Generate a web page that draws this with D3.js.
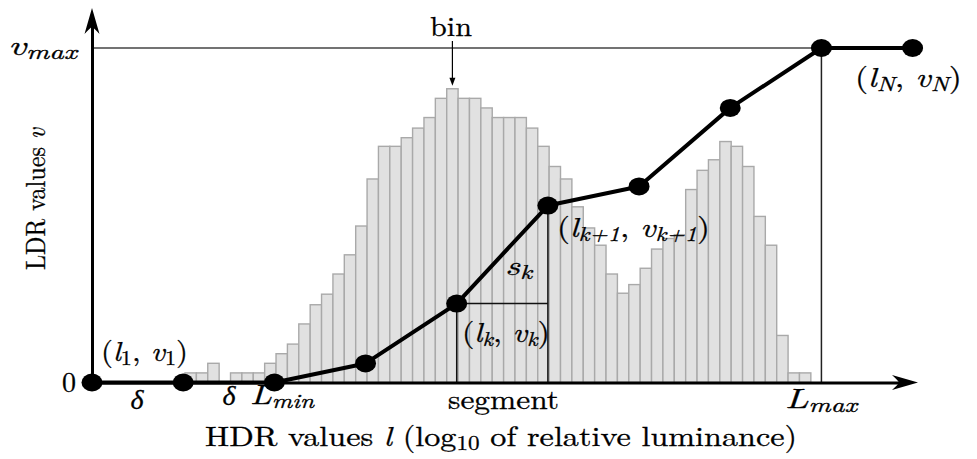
<!DOCTYPE html>
<html>
<head>
<meta charset="utf-8">
<script src="https://cdn.jsdelivr.net/npm/d3@7"></script>
<style>
  body { margin: 0; background: #fff; }
  svg { display: block; }
</style>
</head>
<body>
<div id="chart"></div>
<script>
// histogram of HDR values (relative bin counts), left to right
const binCounts = [
  1, 1, 2, 0, 1, 1, 1, 2, 3, 4,
  6.1, 8.1, 9.2, 11.3, 13.3, 16.3, 21.2, 24.6, 24.6, 25.5,
  26.5, 27.6, 29.6, 30.6, 29.6, 29.6, 28.6, 27.6, 27.6, 27.6,
  26.5, 24.6, 22.5, 21.2, 18.3, 16.1, 14.3, 11.3, 9.3, 10.2,
  11.9, 13.9, 15.0, 15.4, 20.1, 22.1, 23.2, 25.1, 24.6, 22.5,
  17.3, 14.3, 4.9, 1, 1
];
const binStart = 1.02;    // l of the first bin edge
const binWidth = 0.1248;  // bin width in l
const binLabelIndex = 23; // bin pointed at by the "bin" label

// tone curve nodes (l_i, v_i)
const nodeL = [0, 1, 2, 3, 4, 5, 6, 7, 8, 9];
const nodeV = [0, 0, 0, 0.057, 0.236, 0.529, 0.586, 0.821, 1, 1];
const segK = 4;           // index of (l_k, v_k)
const lMin = 2, lMax = 8;

const width = 977, height = 459;
const serif = "'Latin Modern Roman', 'Liberation Serif', serif";

const svg = d3.select("#chart").append("svg")
    .attr("width", width)
    .attr("height", height);

// scales
const x = d3.scaleLinear().domain([0, 9]).range([92, 912.6]);
const y = d3.scaleLinear().domain([0, 1]).range([382.5, 48]);
const hy = d3.scaleLinear().domain([0, 35]).range([382.5, 382.5 - 336]);

// histogram bars
svg.append("g")
    .selectAll("rect")
    .data(binCounts)
    .join("rect")
    .attr("x", (d, i) => x(binStart + i * binWidth))
    .attr("y", d => hy(d))
    .attr("width", x(binWidth) - x(0))
    .attr("height", d => hy(0) - hy(d))
    .attr("fill", "#e1e1e1")
    .attr("stroke", "#a9a9a9")
    .attr("stroke-width", 1.4);

// v_max and L_max guide lines
svg.append("line")
    .attr("x1", x(0)).attr("x2", x(lMax))
    .attr("y1", y(1)).attr("y2", y(1))
    .attr("stroke", "#444").attr("stroke-width", 1.6);
svg.append("line")
    .attr("x1", x(lMax)).attr("x2", x(lMax))
    .attr("y1", y(1)).attr("y2", y(0))
    .attr("stroke", "#222").attr("stroke-width", 1.5);

// segment lines
const seg = svg.append("g").attr("stroke", "#111").attr("stroke-width", 1.5);
seg.append("line")
    .attr("x1", x(nodeL[segK])).attr("x2", x(nodeL[segK]))
    .attr("y1", y(nodeV[segK])).attr("y2", y(0));
seg.append("line")
    .attr("x1", x(nodeL[segK + 1])).attr("x2", x(nodeL[segK + 1]))
    .attr("y1", y(nodeV[segK + 1])).attr("y2", y(0));
seg.append("line")
    .attr("x1", x(nodeL[segK])).attr("x2", x(nodeL[segK + 1]))
    .attr("y1", y(nodeV[segK])).attr("y2", y(nodeV[segK]));

// axes (no ticks, just the lines), plus arrow heads
const xAxisScale = d3.scaleLinear().domain([0, 1]).range([x(0), 902]);
const yAxisScale = d3.scaleLinear().domain([0, 1]).range([y(0), 24]);

svg.append("g")
    .attr("transform", `translate(0,${y(0)})`)
    .call(d3.axisBottom(xAxisScale).tickValues([]).tickSizeOuter(0))
    .select(".domain").attr("stroke", "#000").attr("stroke-width", 3);
svg.append("g")
    .attr("transform", `translate(${x(0)},0)`)
    .call(d3.axisLeft(yAxisScale).tickValues([]).tickSizeOuter(0))
    .select(".domain").attr("stroke", "#000").attr("stroke-width", 3);

const arrowHead = "M0,0 L-26,-7.5 Q-20,-2 -19,0 Q-20,2 -26,7.5 Z";
svg.append("path")
    .attr("d", arrowHead)
    .attr("transform", `translate(918,${y(0)})`)
    .attr("fill", "#000");
svg.append("path")
    .attr("d", arrowHead)
    .attr("transform", `translate(${x(0)},8) rotate(-90)`)
    .attr("fill", "#000");

// tone curve
const nodes = nodeL.map((l, i) => ({ l, v: nodeV[i] }));
svg.append("path")
    .datum(nodes)
    .attr("d", d3.line().x(d => x(d.l)).y(d => y(d.v)))
    .attr("fill", "none")
    .attr("stroke", "#000")
    .attr("stroke-width", 4)
    .attr("stroke-linejoin", "round");
svg.append("g")
    .selectAll("ellipse")
    .data(nodes)
    .join("ellipse")
    .attr("cx", d => x(d.l))
    .attr("cy", d => y(d.v))
    .attr("rx", 10.5)
    .attr("ry", 9)
    .attr("fill", "#000");

// "bin" pointer
const binCx = x(binStart + (binLabelIndex + 0.5) * binWidth);
svg.append("line")
    .attr("x1", binCx).attr("x2", binCx)
    .attr("y1", 41).attr("y2", hy(binCounts[binLabelIndex]) - 8)
    .attr("stroke", "#000").attr("stroke-width", 1.2);
svg.append("path")
    .attr("d", "M0,0 L-3,-8 L3,-8 Z")
    .attr("transform", `translate(${binCx},${hy(binCounts[binLabelIndex]) - 3})`)
    .attr("fill", "#000");

// text helper: parts = [{t, it, sub}]
function mathText(px, py, parts, opts = {}) {
  const t = svg.append("text")
      .attr("x", px).attr("y", py)
      .attr("font-family", serif)
      .attr("font-size", opts.size || 28)
      .attr("fill", "#000")
      .attr("stroke", "#000")
      .attr("stroke-width", 0.3)
      .attr("text-anchor", opts.anchor || "start");
  if (opts.len) t.attr("textLength", opts.len).attr("lengthAdjust", "spacingAndGlyphs");
  let shift = 0;
  parts.forEach(p => {
    const target = p.sub ? 4 : 0;
    const s = t.append("tspan").text(p.t).attr("dy", target - shift);
    if (p.it) s.attr("font-style", "italic");
    if (p.sub) s.attr("font-size", "0.72em");
    shift = target;
  });
  return t;
}

mathText(430, 36, [{ t: "bin" }], { len: 42 });
mathText(8, 55, [{ t: "v", it: true }, { t: "max", it: true, sub: true }], { len: 69 });
mathText(76, 392, [{ t: "0" }], { anchor: "end" });

svg.append("text")
    .attr("transform", "translate(45,199) rotate(-90)")
    .attr("text-anchor", "middle")
    .attr("font-family", serif)
    .attr("font-size", 28)
    .attr("stroke", "#000")
    .attr("stroke-width", 0.3)
    .attr("textLength", 142)
    .attr("lengthAdjust", "spacingAndGlyphs")
    .call(t => {
      t.append("tspan").text("LDR values ");
      t.append("tspan").text("v").attr("font-style", "italic");
    });

mathText(101, 361, [
  { t: "(" }, { t: "l", it: true }, { t: "1", sub: true }, { t: ", " },
  { t: "v", it: true }, { t: "1", sub: true }, { t: ")" }
], { len: 87 });

mathText(137, 409, [{ t: "δ", it: true }], { anchor: "middle" });
mathText(229, 405, [{ t: "δ", it: true }], { anchor: "middle" });
mathText(250, 404, [{ t: "L", it: true }, { t: "min", it: true, sub: true }], { len: 64 });
mathText(448, 409, [{ t: "segment" }], { len: 111 });
mathText(785, 408, [{ t: "L", it: true }, { t: "max", it: true, sub: true }], { len: 72 });

mathText(205, 446, [
  { t: "HDR values " }, { t: "l", it: true }, { t: " (log" },
  { t: "10", sub: true }, { t: " of relative luminance)" }
], { len: 592 });

mathText(855, 87, [
  { t: "(" }, { t: "l", it: true }, { t: "N", it: true, sub: true }, { t: ", " },
  { t: "v", it: true }, { t: "N", it: true, sub: true }, { t: ")" }
], { len: 107 });

mathText(557, 237, [
  { t: "(" }, { t: "l", it: true }, { t: "k+1", it: true, sub: true }, { t: ", " },
  { t: "v", it: true }, { t: "k+1", it: true, sub: true }, { t: ")" }
], { len: 153 });

mathText(505, 275, [{ t: "s", it: true }, { t: "k", it: true, sub: true }], { len: 27 });

mathText(462, 342, [
  { t: "(" }, { t: "l", it: true }, { t: "k", it: true, sub: true }, { t: ", " },
  { t: "v", it: true }, { t: "k", it: true, sub: true }, { t: ")" }
], { len: 88 });
</script>
</body>
</html>
